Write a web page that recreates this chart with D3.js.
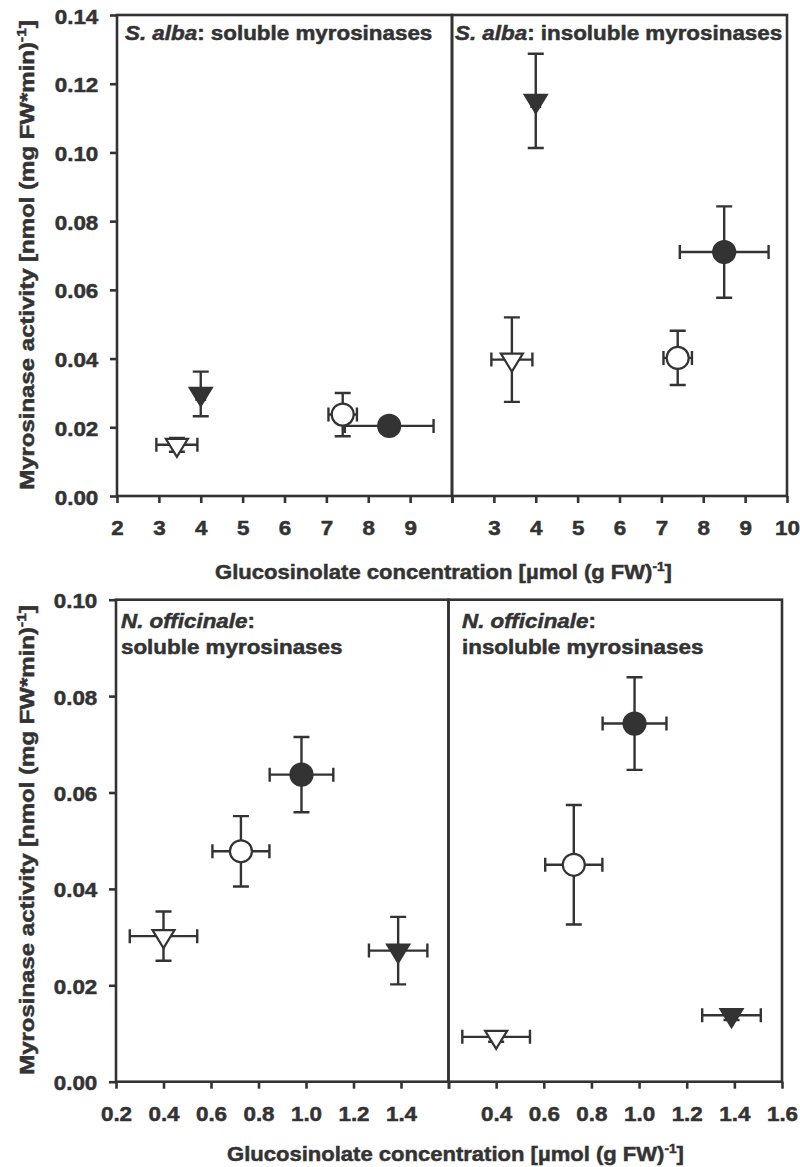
<!DOCTYPE html>
<html>
<head>
<meta charset="utf-8">
<script src="https://cdn.jsdelivr.net/npm/d3@7"></script>
<style>
  body { margin: 0; background: #fff; }
  svg { display: block; }
</style>
</head>
<body>
<svg id="chart" width="800" height="1167"></svg>
<script>
// ---- data ----
// S. alba: glucosinolate concentration (x) +- error
const albaMarkers = ['openTriangle', 'filledTriangle', 'openCircle', 'filledCircle']
const albaGlucosinolate = [3.43, 4.0, 7.39, 8.5]
const albaGlucosinolateErr = [0.49, 0.1, 0.34, 1.06]
// S. alba: myrosinase activity
const albaSoluble = [0.0149, 0.0297, 0.0237, 0.0204]
const albaSolubleErr = [0.002, 0.0065, 0.0063, 0.002]
const albaInsoluble = [0.0397, 0.115, 0.0402, 0.071]
const albaInsolubleErr = [0.0123, 0.0137, 0.0079, 0.0133]

// N. officinale
const offMarkers = ['openTriangle', 'openCircle', 'filledCircle', 'filledTriangle']
const offGlucosinolate = [0.4, 0.726, 0.981, 1.388]
const offGlucosinolateErr = [0.142, 0.12, 0.134, 0.123]
const offSoluble = [0.0302, 0.0478, 0.0637, 0.0272]
const offSolubleErr = [0.0051, 0.0073, 0.0078, 0.007]
const offInsoluble = [0.0093, 0.045, 0.0743, 0.0138]
const offInsolubleErr = [0.001, 0.0124, 0.0096, 0.001]

// tick labels
const albaXTicks = [2, 3, 4, 5, 6, 7, 8, 9, 10]
const albaYTicks = [0, 0.02, 0.04, 0.06, 0.08, 0.1, 0.12, 0.14]
const offXTicks = [0.2, 0.4, 0.6, 0.8, 1.0, 1.2, 1.4, 1.6]
const offYTicks = [0, 0.02, 0.04, 0.06, 0.08, 0.1]

// ---- style ----
const ink = '#333'
const font = '"Liberation Sans", Arial, Helvetica, sans-serif'
const fontSize = 20
const sx = 1.12 // text in the original is a bit wide
const textStroke = 0.5 // original glyphs are heavier

const svg = d3.select('#chart')

const panels = [
  {
    title: [[['S. alba', true], [': soluble myrosinases']]],
    titleX: 125, titleY: 40,
    x: albaGlucosinolate, xErr: albaGlucosinolateErr,
    y: albaSoluble, yErr: albaSolubleErr, markers: albaMarkers,
    xDomain: [2, 10], yDomain: [0, 0.14],
    xRange: [117, 452], yRange: [496, 15],
    xTicks: albaXTicks, hide: 10, xFormat: d3.format('d'),
    yTicks: albaYTicks,
  },
  {
    title: [[['S. alba', true], [': insoluble myrosinases']]],
    titleX: 455, titleY: 40,
    x: albaGlucosinolate, xErr: albaGlucosinolateErr,
    y: albaInsoluble, yErr: albaInsolubleErr, markers: albaMarkers,
    xDomain: [2, 10], yDomain: [0, 0.14],
    xRange: [452, 787], yRange: [496, 15],
    xTicks: albaXTicks, hide: 2, xFormat: d3.format('d'),
  },
  {
    title: [[['N. officinale', true], [':']], [['soluble myrosinases']]],
    titleX: 121, titleY: 628,
    x: offGlucosinolate, xErr: offGlucosinolateErr,
    y: offSoluble, yErr: offSolubleErr, markers: offMarkers,
    xDomain: [0.2, 1.6], yDomain: [0, 0.1],
    xRange: [116, 448.5], yRange: [1081.7, 599.7],
    xTicks: offXTicks, hide: 1.6, xFormat: d3.format('.1f'),
    yTicks: offYTicks,
  },
  {
    title: [[['N. officinale', true], [':']], [['insoluble myrosinases']]],
    titleX: 462, titleY: 628,
    x: offGlucosinolate, xErr: offGlucosinolateErr,
    y: offInsoluble, yErr: offInsolubleErr, markers: offMarkers,
    xDomain: [0.2, 1.6], yDomain: [0, 0.1],
    xRange: [448.5, 782], yRange: [1081.7, 599.7],
    xTicks: offXTicks, hide: 0.2, xFormat: d3.format('.1f'),
  },
]

const trianglePath = 'M-11,-6L11,-6L0,12Z'

panels.forEach((p) => {
  const x = d3.scaleLinear().domain(p.xDomain).range(p.xRange)
  const y = d3.scaleLinear().domain(p.yDomain).range(p.yRange)
  const g = svg.append('g')

  // x axis
  g.append('g')
    .attr('transform', `translate(0,${p.yRange[0]})`)
    .call(
      d3.axisBottom(x)
        .tickValues(p.xTicks)
        .tickSize(7)
        .tickSizeOuter(0)
        .tickPadding(18)
        .tickFormat((d) => (d === p.hide ? '' : p.xFormat(d)))
    )
    .call((a) => a.select('.domain').remove())
    .call(styleAxis)
    .call((a) => a.selectAll('text').attr('transform', `scale(${sx},1)`))

  // y axis (left panels only)
  if (p.yTicks) {
    g.append('g')
      .attr('transform', `translate(${p.xRange[0]},0)`)
      .call(
        d3.axisLeft(y)
          .tickValues(p.yTicks)
          .tickSize(7)
          .tickSizeOuter(0)
          .tickFormat(d3.format('.2f'))
      )
      .call((a) => a.select('.domain').remove())
      .call(styleAxis)
      .call((a) =>
        a.selectAll('text')
          .attr('x', -18.7 / sx)
          .attr('dy', '0.4em')
          .attr('transform', `scale(${sx},1)`)
      )
  }

  // frame
  g.append('rect')
    .attr('x', p.xRange[0])
    .attr('y', p.yRange[1])
    .attr('width', p.xRange[1] - p.xRange[0])
    .attr('height', p.yRange[0] - p.yRange[1])
    .attr('fill', 'none')
    .attr('stroke', ink)
    .attr('stroke-width', 2.6)

  // panel title
  p.title.forEach((line, i) => {
    const t = g.append('text')
      .attr('transform', `translate(${p.titleX},${p.titleY + i * 26}) scale(${sx},1)`)
      .attr('font-family', font)
      .attr('font-size', fontSize)
      .attr('font-weight', 'bold')
      .attr('fill', ink)
      .attr('stroke', ink)
      .attr('stroke-width', textStroke)
    line.forEach(([s, italic]) => {
      t.append('tspan').attr('font-style', italic ? 'italic' : null).text(s)
    })
  })

  const pts = p.x.map((d, i) => ({
    x: d, xErr: p.xErr[i], y: p.y[i], yErr: p.yErr[i], marker: p.markers[i],
  }))

  // error bars
  const bars = g.append('g')
    .attr('stroke', ink)
    .attr('stroke-width', 2.4)
    .attr('fill', 'none')
  pts.forEach((d) => {
    const cx = x(d.x), cy = y(d.y)
    const y0 = y(d.y - d.yErr), y1 = y(d.y + d.yErr)
    const x0 = x(d.x - d.xErr), x1 = x(d.x + d.xErr)
    bars.append('path')
      .attr('d', `M${cx},${y0}V${y1}M${cx - 8},${y0}H${cx + 8}M${cx - 8},${y1}H${cx + 8}`)
    bars.append('path')
      .attr('d', `M${x0},${cy}H${x1}M${x0},${cy - 7}V${cy + 7}M${x1},${cy - 7}V${cy + 7}`)
  })

  // markers
  const m = g.append('g')
    .selectAll('g')
    .data(pts)
    .join('g')
    .attr('transform', (d) => `translate(${x(d.x)},${y(d.y)})`)
  m.each(function (d) {
    const sel = d3.select(this)
    const filled = d.marker.startsWith('filled')
    const shape = d.marker.endsWith('Circle')
      ? sel.append('circle').attr('r', 11)
      : sel.append('path').attr('d', trianglePath)
    shape
      .attr('fill', filled ? ink : '#fff')
      .attr('stroke', ink)
      .attr('stroke-width', 2.2)
      .attr('stroke-linejoin', 'miter')
  })
})

function styleAxis(a) {
  a.attr('font-family', font)
    .attr('font-size', fontSize)
    .attr('font-weight', 'bold')
  a.selectAll('line').attr('stroke', ink).attr('stroke-width', 2.6)
  a.selectAll('text')
    .attr('fill', ink)
    .attr('stroke', ink)
    .attr('stroke-width', textStroke)
}

// axis titles
function xTitle(xPos, yPos) {
  const t = svg.append('text')
    .attr('transform', `translate(${xPos},${yPos}) scale(1.05,1)`)
    .attr('font-family', font)
    .attr('font-size', 21)
    .attr('font-weight', 'bold')
    .attr('fill', ink)
    .attr('stroke', ink)
    .attr('stroke-width', textStroke)
  t.append('tspan').text('Glucosinolate concentration [µmol (g FW)')
  t.append('tspan').attr('font-size', 13).attr('dy', -8).text('-1')
  t.append('tspan').attr('dy', 8).text(']')
}
xTitle(215, 579)
xTitle(227, 1161)

function yTitle(xPos, yPos) {
  const t = svg.append('text')
    .attr('transform', `translate(${xPos},${yPos}) rotate(-90) scale(1.2,1)`)
    .attr('text-anchor', 'middle')
    .attr('font-family', font)
    .attr('font-size', 20)
    .attr('font-weight', 'bold')
    .attr('fill', ink)
    .attr('stroke', ink)
    .attr('stroke-width', textStroke)
  t.append('tspan').text('Myrosinase activity [nmol (mg FW*min)')
  t.append('tspan').attr('font-size', 13).attr('dy', -8).text('-1')
  t.append('tspan').attr('dy', 8).text(']')
}
yTitle(34, 255)
yTitle(34, 840)
</script>
</body>
</html>
